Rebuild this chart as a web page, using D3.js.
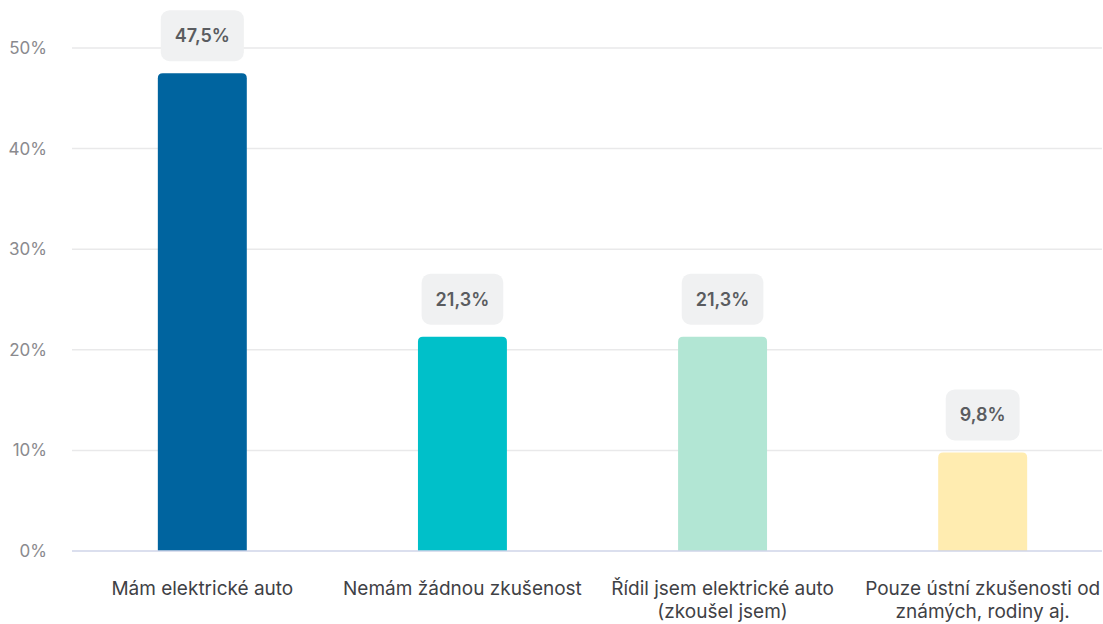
<!DOCTYPE html>
<html>
<head>
<meta charset="utf-8">
<script src="https://cdn.jsdelivr.net/npm/d3@7"></script>
<style>
  body { margin: 0; background: #fff; }
  svg { display: block; font-family: Inter, "Noto Sans", sans-serif; }
</style>
</head>
<body>
<svg id="chart" width="1103" height="624"></svg>
<script>
let categories = [
    ['Mám elektrické auto'],
    ['Nemám žádnou zkušenost'],
    ['Řídil jsem elektrické auto', '(zkoušel jsem)'],
    ['Pouze ústní zkušenosti od', 'známých, rodiny aj.']
]
let values = [47.5, 21.3, 21.3, 9.8]
let colors = ['#00649f', '#00c0c9', '#b2e6d4', '#ffecb0']
let yTicks = [0, 10, 20, 30, 40, 50]

let svg = d3.select('#chart')
let plotLeft = 72, plotRight = 1102, plotTop = 48, plotBottom = 551

let x = d3.scaleBand()
    .domain(d3.range(values.length))
    .range([plotLeft, 1113])
    .paddingInner(0.658)
    .paddingOuter(0.33)

let y = d3.scaleLinear()
    .domain([0, 50])
    .range([plotBottom, plotTop])

let fmt = v => v.toFixed(1).replace('.', ',') + '%'

// grid lines
svg.append('g').selectAll('line')
    .data(yTicks.filter(t => t > 0))
    .enter().append('line')
    .attr('x1', plotLeft).attr('x2', plotRight)
    .attr('y1', d => y(d)).attr('y2', d => y(d))
    .attr('stroke', '#e9e9ea')
    .attr('stroke-width', 1.5)

// y labels
svg.append('g').selectAll('text')
    .data(yTicks)
    .enter().append('text')
    .attr('x', 47)
    .attr('y', d => y(d))
    .attr('dy', '0.35em')
    .attr('text-anchor', 'end')
    .attr('fill', '#8a8a8e')
    .attr('font-size', 17)
    .text(d => d + '%')

// bars with rounded top
let r = 5
svg.append('g').selectAll('path')
    .data(values)
    .enter().append('path')
    .attr('fill', (d, i) => colors[i])
    .attr('d', (d, i) => {
        let x0 = x(i), w = x.bandwidth(), y0 = y(d), y1 = y(0)
        return `M${x0},${y1}V${y0 + r}Q${x0},${y0} ${x0 + r},${y0}H${x0 + w - r}Q${x0 + w},${y0} ${x0 + w},${y0 + r}V${y1}Z`
    })

// baseline
svg.append('line')
    .attr('x1', plotLeft).attr('x2', plotRight)
    .attr('y1', y(0)).attr('y2', y(0))
    .attr('stroke', '#cfd5e8')
    .attr('stroke-width', 1.5)

// value boxes
let labels = svg.append('g').selectAll('g')
    .data(values)
    .enter().append('g')
    .attr('transform', (d, i) => `translate(${x(i) + x.bandwidth() / 2},${y(d) - 12 - 25.5})`)

labels.append('text')
    .attr('text-anchor', 'middle')
    .attr('dy', '0.35em')
    .attr('fill', '#5a5c60')
    .attr('font-size', 18)
    .attr('font-weight', 600)
    .text(d => fmt(d))

labels.each(function() {
    let g = d3.select(this)
    let w = g.select('text').node().getComputedTextLength() + 28
    g.insert('rect', 'text')
        .attr('x', -w / 2).attr('y', -25.5)
        .attr('width', w).attr('height', 51)
        .attr('rx', 9)
        .attr('fill', '#f0f1f2')
})

// x labels
let xl = svg.append('g').selectAll('text')
    .data(categories)
    .enter().append('text')
    .attr('x', (d, i) => x(i) + x.bandwidth() / 2)
    .attr('y', 595)
    .attr('text-anchor', 'middle')
    .attr('fill', '#3f4145')
    .attr('font-size', 19)

xl.selectAll('tspan')
    .data(d => d)
    .enter().append('tspan')
    .attr('x', function() { return d3.select(this.parentNode).attr('x') })
    .attr('dy', (d, i) => i === 0 ? 0 : 23)
    .text(d => d)
</script>
</body>
</html>
